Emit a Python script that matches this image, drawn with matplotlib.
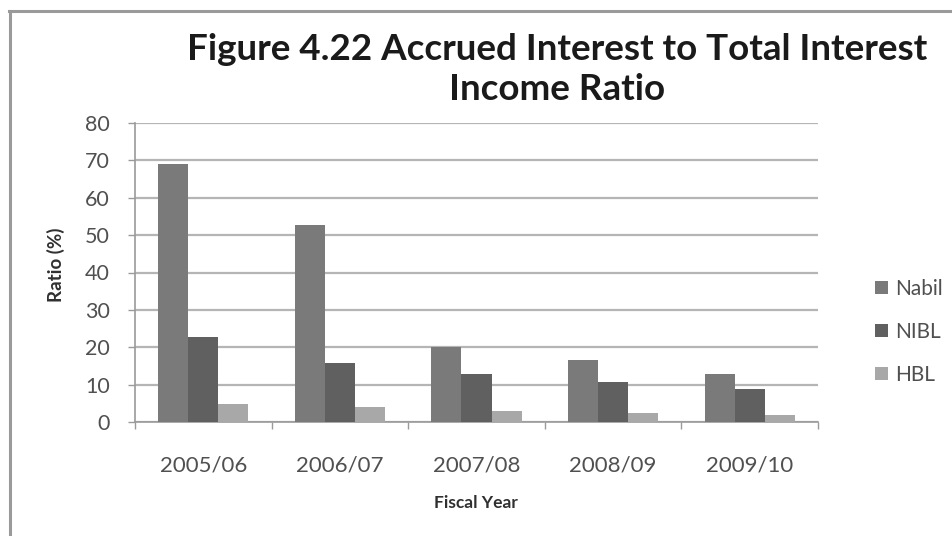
import matplotlib
matplotlib.use("Agg")
import matplotlib.pyplot as plt
from matplotlib.lines import Line2D
import numpy as np

plt.rcParams['font.family'] = ['Lato', 'DejaVu Sans']

years = ["2005/06", "2006/07", "2007/08", "2008/09", "2009/10"]
series = ["Nabil", "NIBL", "HBL"]
nabil = [69.0, 52.7, 20.0, 16.6, 12.8]
nibl = [22.8, 15.7, 12.8, 10.8, 8.7]
hbl = [4.8, 4.1, 3.0, 2.3, 1.8]
colors = ["#7a7a7a", "#606060", "#a8a8a8"]

W, H = 953, 536
fig = plt.figure(figsize=(W / 100, H / 100), dpi=100)
fig.patch.set_facecolor("white")

# outer frame (top and left edges visible)
fig.add_artist(Line2D([9 / W, 1], [1 - 11 / H, 1 - 11 / H], color="#9a9a9a", lw=2.2,
                      transform=fig.transFigure))
fig.add_artist(Line2D([10 / W, 10 / W], [0, 1 - 11 / H], color="#9a9a9a", lw=2.2,
                      transform=fig.transFigure))

ax = fig.add_axes([135 / W, 1 - 422 / H, (818 - 135) / W, (422 - 123) / H])
x = np.arange(len(years))
bw = 0.22
for i, (vals, name) in enumerate(zip([nabil, nibl, hbl], series)):
    ax.bar(x + (i - 1) * bw, vals, width=bw, color=colors[i], label=name, zorder=3)

ax.set_xlim(-0.5, len(years) - 0.5)
ax.set_ylim(0, 80)
ax.set_yticks(np.arange(0, 81, 10))
ax.set_xticks(x)
ax.set_xticklabels(years)
ax.set_xticks(np.arange(-0.5, len(years), 1), minor=True)
ax.tick_params(axis="x", which="major", length=0, pad=24, labelsize=16, labelcolor="#505050")
ax.tick_params(axis="x", which="minor", length=5, color="#9a9a9a", width=1)
ax.tick_params(axis="y", length=5, color="#9a9a9a", width=1, pad=13, labelsize=15.5,
               labelcolor="#505050")
ax.grid(axis="y", color="#b5b5b5", lw=1.6, zorder=0)
for s in ["top", "right"]:
    ax.spines[s].set_visible(False)
for s in ["left", "bottom"]:
    ax.spines[s].set_color("#9a9a9a")
    ax.spines[s].set_linewidth(1.2)

fig.text(557 / W, 1 - 60 / H, "Figure 4.22 Accrued Interest to Total Interest",
         ha="center", va="baseline", fontsize=26.5, fontweight="bold", color="#1a1a1a")
fig.text(557 / W, 1 - 100 / H, "Income Ratio",
         ha="center", va="baseline", fontsize=26.5, fontweight="bold", color="#1a1a1a")
fig.text(476 / W, 1 - 503 / H, "Fiscal Year", ha="center", va="center",
         fontsize=12.5, fontweight="bold", color="#303030")
fig.text(56 / W, 1 - 265 / H, "Ratio (%)", ha="center", va="center", rotation=90,
         fontsize=13.5, fontweight="bold", color="#303030")

ax.legend(loc="center left", bbox_to_anchor=(867 / W, 1 - 332 / H),
          bbox_transform=fig.transFigure, frameon=False, fontsize=15,
          handlelength=0.6, handleheight=0.6, handletextpad=0.35, labelspacing=1.1,
          labelcolor="#505050", borderaxespad=0)

fig.savefig("out.png", dpi=100, facecolor="white")
